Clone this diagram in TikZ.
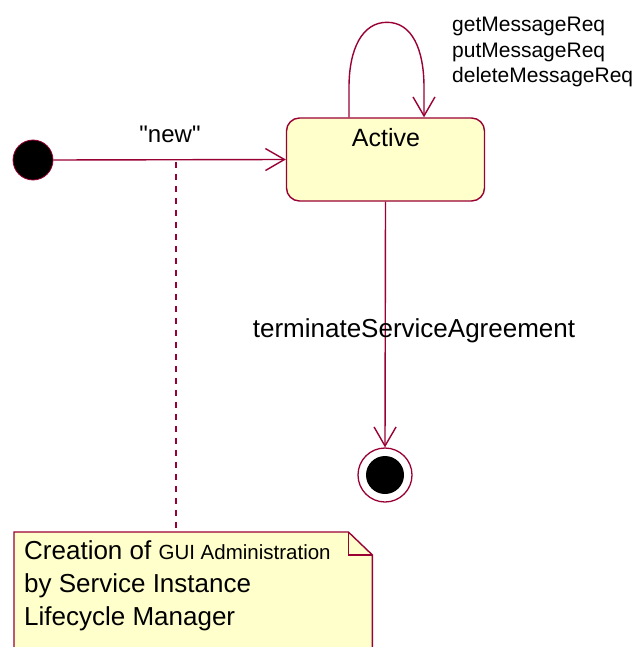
\documentclass[tikz,border=0pt]{standalone}
\usepackage{fontspec}
\setmainfont{Liberation Sans}
\usetikzlibrary{arrows.meta}
\definecolor{umlline}{HTML}{990033}
\definecolor{umlfill}{HTML}{FFFFCC}
\newcommand{\fsz}[1]{\fontsize{#1}{#1}\selectfont}
\tikzset{
  trans/.style={draw=umlline, line width=1.4pt,
    -{Straight Barb[length=19pt,width=22pt,line width=1.4pt]}},
  statebox/.style={draw=umlline, fill=umlfill, line width=1.4pt,
    rounded corners=13pt, minimum width=198pt, minimum height=83pt,
    inner sep=0pt},
  lbl/.style={inner sep=0pt, text=black},
  notebody/.style={draw=umlline, fill=umlfill, line width=1.4pt},
  anchorline/.style={draw=umlline, line width=1.6pt, dash pattern=on 6pt off 6pt}
}
\begin{document}
\begin{tikzpicture}[x=1pt, y=-1pt]
  \useasboundingbox (0,0) rectangle (641,647);
  \clip (0,0) rectangle (641,647);

  % states
  \node[circle, draw=umlline, fill=black, line width=0.8pt,
        minimum size=40pt, inner sep=0pt] (init) at (33,160) {};
  \node[statebox] (active) at (385.5,159.5) {};
  \node[lbl, anchor=base] (activetxt) at (386,147) {\fsz{25}Active};
  \node[circle, draw=umlline, fill=white, line width=1.3pt,
        minimum size=54pt, inner sep=0pt] (final) at (385,475) {};
  \fill[black] (final.center) circle (19pt);

  % creation transition
  \draw[trans] (init.east) -- (active.west);
  \node[lbl, anchor=base] (lblnew) at (170,143)
     {\fsz{24}\textquotedbl new\textquotedbl};

  % self transition on Active: an arch above the state
  \coordinate (loopstart) at ([xshift=-36.5pt]active.north);
  \coordinate (loopend) at ([xshift=38.5pt]active.north);
  \draw[trans] (loopstart) -- ++(0,-30)
     .. controls +(0,-38) and +(-25,0) .. ++(38,-65)
     .. controls +(25,0) and +(0,-38) .. ++(37,65) -- (loopend);
  \node[lbl, anchor=base west] (lblget) at (452,32) {\fsz{21}getMessageReq};
  \node[lbl, anchor=base west] (lblput) at (452,57.5) {\fsz{21}putMessageReq};
  \node[lbl, anchor=base west] (lbldel) at (452,83) {\fsz{21}deleteMessageReq};

  % termination
  \draw[trans] (active.south) -- (final.north);
  \node[lbl, anchor=base] (lblterm) at (414,337) {\fsz{26}terminateServiceAgreement};

  % note attached to the creation transition
  \node[minimum width=358pt, minimum height=140pt, inner sep=0pt,
        anchor=north west] (note) at (14,532) {};
  \path[notebody] (note.north west) -- ([xshift=-24pt]note.north east)
     -- ([yshift=-23pt]note.north east) -- (note.south east)
     -- (note.south west) -- cycle;
  \draw[umlline, line width=1.4pt] ([xshift=-24pt]note.north east)
     -- ([xshift=-24pt,yshift=-23pt]note.north east)
     -- ([yshift=-23pt]note.north east);
  \coordinate (newfoot) at (176,162);
  \draw[anchorline] (newfoot) -- (note.north -| newfoot);
  \node[lbl, anchor=base west] (nl1) at (24,559)
     {\fsz{26}Creation of \fsz{20.5}GUI Administration};
  \node[lbl, anchor=base west] (nl2) at (24,592) {\fsz{26}by Service Instance};
  \node[lbl, anchor=base west] (nl3) at (24,625) {\fsz{26}Lifecycle Manager};
\end{tikzpicture}
\end{document}
